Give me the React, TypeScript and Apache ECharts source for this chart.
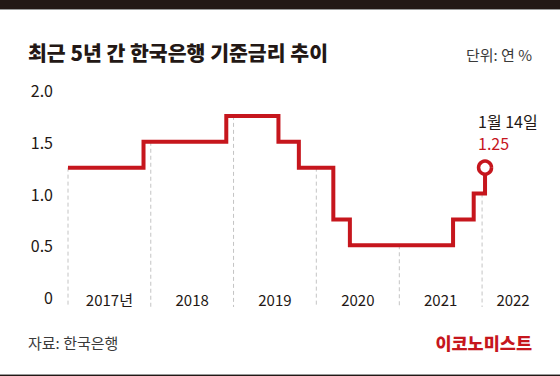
import React, { useEffect, useRef } from 'react';
import * as echarts from 'echarts';

// ---- data ----
const RATE_DATES = ['2017-01-01', '2017-11-30', '2018-11-30', '2019-07-18', '2019-10-16', '2020-03-16', '2020-05-28', '2021-08-26', '2021-11-25', '2022-01-14'];
const RATE_VALUES = [1.25, 1.5, 1.75, 1.5, 1.25, 0.75, 0.5, 0.75, 1.0, 1.25];
const YEARS = [2017, 2018, 2019, 2020, 2021, 2022];
const YEAR_LABELS = ['2017년', '2018', '2019', '2020', '2021', '2022'];
const AXIS_START = '2017-01-01';
const AXIS_END = '2022-10-01';
const LAST_DATE_LABEL = '1월 14일';
const TITLE = '최근 5년 간 한국은행 기준금리 추이';
const UNIT = '단위: 연 %';
const SOURCE = '자료: 한국은행';
const BRAND = '이코노미스트';

const RED = '#c6161d';
const DARK = '#231815';
const FONT = '"Noto Sans CJK KR", "Noto Sans", sans-serif';

const ts = (s: string) => {
  const [y, m, d] = s.split('-').map(Number);
  return new Date(y, m - 1, d).getTime();
};

const rateAt = (t: number) => {
  let v = RATE_VALUES[0];
  for (let i = 0; i < RATE_DATES.length; i++) {
    if (ts(RATE_DATES[i]) <= t) v = RATE_VALUES[i];
  }
  return v;
};

export default function App() {
  const ref = useRef<HTMLDivElement>(null);
  useEffect(() => {
    if (!ref.current) return;
    const chart = echarts.init(ref.current, null, { renderer: 'svg' });

    const yearStarts = YEARS.map((y) => new Date(y, 0, 1).getTime());
    const endTs = ts(AXIS_END);
    const mids = yearStarts.map((s, i) => {
      const e = i < yearStarts.length - 1 ? yearStarts[i + 1] : endTs;
      return (s + e) / 2;
    });

    const lineData: any[] = RATE_DATES.map((d, i) => {
      const item: any = { value: [ts(d), RATE_VALUES[i]] };
      if (i === RATE_DATES.length - 1) {
        item.symbol = 'circle';
        item.symbolSize = 13;
        item.itemStyle = { color: '#fff', borderColor: RED, borderWidth: 3.5 };
        item.label = {
          show: true,
          position: 'top',
          align: 'left',
          verticalAlign: 'bottom',
          distance: 5,
          offset: [-7, 0],
          formatter: `{a|${LAST_DATE_LABEL}}\n{b|${RATE_VALUES[i].toFixed(2)}}`,
          rich: {
            a: { fontSize: 16, color: DARK, fontFamily: FONT, lineHeight: 22 },
            b: { fontSize: 16, color: RED, fontFamily: FONT, lineHeight: 22 },
          },
        };
      }
      return item;
    });

    const guideData = yearStarts.map((t) => [t, rateAt(t)]);

    chart.setOption({
      animation: false,
      backgroundColor: '#fff',
      textStyle: { fontFamily: FONT },
      grid: { left: 68, right: 16, top: 90, bottom: 79, containLabel: false },
      xAxis: {
        type: 'value',
        min: ts(AXIS_START),
        max: endTs,
        axisLine: { show: false },
        axisTick: { show: false },
        splitLine: { show: false },
        axisLabel: {
          customValues: mids,
          formatter: (v: number) => {
            const y = new Date(v).getFullYear();
            const idx = YEARS.indexOf(y);
            return idx >= 0 ? YEAR_LABELS[idx] : '';
          },
          fontSize: 15,
          color: DARK,
          fontFamily: FONT,
          margin: 2,
          verticalAlign: 'middle',
        },
      },
      yAxis: {
        type: 'value',
        min: 0,
        max: 2,
        interval: 0.5,
        axisLine: { show: false },
        axisTick: { show: false },
        splitLine: { show: false },
        axisLabel: {
          formatter: (v: number) => (v === 0 ? '0' : v.toFixed(1)),
          fontSize: 16,
          color: DARK,
          fontFamily: FONT,
          margin: 15,
        },
      },
      series: [
        {
          type: 'custom',
          z: 1,
          clip: false,
          data: guideData,
          encode: { x: 0, y: 1 },
          renderItem: (params: any, api: any) => {
            const top = api.coord([api.value(0), api.value(1)]);
            const base = api.coord([api.value(0), 0]);
            return {
              type: 'line',
              shape: { x1: top[0], y1: top[1], x2: base[0], y2: base[1] + 10 },
              style: { stroke: '#c4c4c4', lineWidth: 1, lineDash: [4, 3] },
            };
          },
        },
        {
          type: 'line',
          z: 3,
          step: 'end',
          symbol: 'none',
          showSymbol: true,
          lineStyle: { color: RED, width: 4, join: 'miter' },
          itemStyle: { color: RED },
          data: lineData,
        },
      ],
      graphic: [
        { type: 'rect', shape: { x: 0, y: 0, width: 560, height: 9 }, style: { fill: DARK } },
        { type: 'rect', shape: { x: 0, y: 9, width: 560, height: 1 }, style: { fill: '#9a9a9a' } },
        { type: 'rect', shape: { x: 0, y: 374, width: 560, height: 1 }, style: { fill: '#9a9a9a' } },
        { type: 'rect', shape: { x: 0, y: 375, width: 560, height: 1 }, style: { fill: DARK } },
        {
          type: 'text',
          x: 28,
          y: 52,
          style: { text: TITLE, fontSize: 20.5, fontWeight: 900, fill: DARK, fontFamily: FONT, verticalAlign: 'middle', align: 'left' },
        },
        {
          type: 'text',
          x: 532,
          y: 54,
          style: { text: UNIT, fontSize: 15, fill: '#3a3a3a', fontFamily: FONT, verticalAlign: 'middle', align: 'right' },
        },
        {
          type: 'text',
          x: 28,
          y: 342,
          style: { text: SOURCE, fontSize: 15, fill: '#3a3a3a', fontFamily: FONT, verticalAlign: 'middle', align: 'left' },
        },
        {
          type: 'text',
          x: 532,
          y: 342,
          style: { text: BRAND, fontSize: 17.5, fontWeight: 900, fill: RED, fontFamily: FONT, verticalAlign: 'middle', align: 'right' },
        },
      ],
    });
    return () => chart.dispose();
  }, []);

  return <div ref={ref} style={{ position: 'fixed', left: 0, top: 0, width: 560, height: 376 }} />;
}
